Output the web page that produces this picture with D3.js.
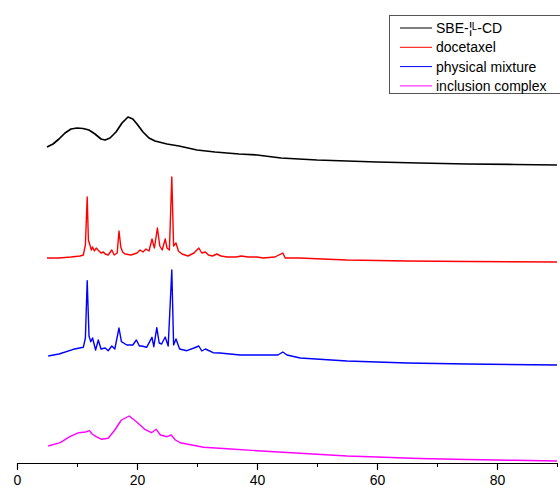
<!DOCTYPE html>
<html>
<head>
<meta charset="utf-8">
<script src="https://cdn.jsdelivr.net/npm/d3@7"></script>
<style>
  body { margin: 0; background: #fff; }
  svg { display: block; font-family: "Liberation Sans", Arial, sans-serif; }
</style>
</head>
<body>
<svg id="chart" width="560" height="488"></svg>
<script>
// series names and colours
const seriesNames = ["SBE-¦ᴸ-CD", "docetaxel", "physical mixture", "inclusion complex"];
const seriesColors = ["#000000", "#ff0000", "#0000ff", "#ff00ff"];

// 2-theta (deg) and intensity (a.u., stacked with offsets)
const sbeX = [5, 6, 7, 8, 9, 10, 11, 12, 13, 14, 14.7, 15.5, 16.5, 17.5, 18.5, 19.3, 20, 21, 22, 23, 25, 27, 30, 33, 37, 40, 44, 50, 55, 60, 67, 75, 83, 90];
const sbeY = [3230, 3260, 3310, 3370, 3410, 3420, 3415, 3400, 3360, 3310, 3300, 3320, 3380, 3470, 3530, 3510, 3460, 3380, 3320, 3290, 3260, 3240, 3200, 3180, 3160, 3150, 3120, 3100, 3090, 3080, 3070, 3060, 3055, 3050];

const docX = [5, 7, 9, 10.5, 11.05, 11.4, 11.7, 11.9, 12.2, 12.4, 12.6, 12.9, 13.2, 13.5, 14.0, 14.4, 14.7, 15.2, 15.8, 16.2, 16.7, 17.0, 17.3, 17.6, 18, 19, 20, 20.5, 21, 21.5, 22, 22.5, 22.9, 23.4, 23.8, 24.2, 24.7, 25.0, 25.4, 25.8, 26.1, 26.5, 26.9, 27.5, 28.5, 29.5, 30.3, 30.8, 31.4, 31.9, 32.6, 33.3, 34, 35, 36.5, 37.4, 38.5, 40, 41, 43, 44.3, 44.7, 47, 55, 65, 75, 90];
const docY = [2120, 2120, 2130, 2140, 2150, 2250, 2730, 2300, 2240, 2200, 2230, 2190, 2220, 2200, 2170, 2180, 2160, 2150, 2200, 2150, 2170, 2390, 2230, 2180, 2160, 2150, 2170, 2200, 2180, 2210, 2190, 2310, 2220, 2420, 2240, 2200, 2310, 2220, 2200, 2930, 2240, 2270, 2190, 2160, 2140, 2170, 2220, 2170, 2180, 2150, 2140, 2160, 2140, 2130, 2130, 2140, 2130, 2130, 2120, 2130, 2170, 2120, 2120, 2100, 2090, 2085, 2080];

const pmX = [5.2, 7, 9.4, 11.05, 11.4, 11.7, 12.0, 12.3, 12.6, 13.1, 13.55, 14.0, 14.7, 15.2, 15.8, 16.3, 17.0, 17.4, 18.3, 19.3, 19.9, 20.4, 20.8, 21.6, 22.5, 22.8, 23.3, 23.7, 24.1, 24.7, 25.2, 25.8, 26.1, 26.5, 27.1, 28.3, 29.5, 30.3, 30.8, 31.4, 32.7, 33.8, 37.2, 40, 43.5, 44.3, 45, 47.2, 55, 65, 75, 90];
const pmY = [1140, 1160, 1207, 1227, 1320, 1893, 1340, 1283, 1320, 1200, 1300, 1210, 1220, 1193, 1240, 1210, 1420, 1283, 1250, 1250, 1300, 1240, 1240, 1227, 1327, 1233, 1423, 1270, 1260, 1330, 1240, 2000, 1250, 1310, 1210, 1193, 1220, 1240, 1190, 1210, 1173, 1170, 1150, 1150, 1150, 1180, 1150, 1120, 1090, 1070, 1060, 1050];

const icX = [5.2, 7.2, 8.8, 10.3, 11.4, 12.1, 12.5, 13.2, 14.1, 15.2, 16.3, 17.4, 18.7, 19.9, 21.3, 22.4, 23.2, 23.9, 25, 25.7, 26.4, 27.2, 30, 31.1, 35, 40, 47.2, 55, 60, 67, 75, 83, 90];
const icY = [240, 273, 333, 373, 380, 393, 360, 333, 307, 317, 400, 500, 540, 483, 407, 373, 407, 350, 333, 350, 300, 273, 240, 227, 213, 193, 167, 140, 130, 115, 105, 97, 90];

// x axis ticks
const majorTicks = [0, 20, 40, 60, 80];
const minorTicks = [10, 30, 50, 70, 90];

const svg = d3.select("#chart");

const x = d3.scaleLinear().domain([0, 90]).range([17, 557]);
const y = d3.scaleLinear().domain([0, 4700]).range([470, 0]);

const series = [
    { xs: sbeX, ys: sbeY },
    { xs: docX, ys: docY },
    { xs: pmX, ys: pmY },
    { xs: icX, ys: icY }
];

const line = d3.line()
    .x(d => x(d[0]))
    .y(d => y(d[1]));

series.forEach((s, i) => {
    const pts = s.xs.map((v, j) => [v, s.ys[j]]);
    svg.append("path")
        .datum(pts)
        .attr("fill", "none")
        .attr("stroke", seriesColors[i])
        .attr("stroke-width", i === 0 ? 1.7 : 1.4)
        .attr("stroke-linejoin", "round")
        .attr("d", line);
});

// x axis
const axisY = 463;
svg.append("g")
    .attr("transform", `translate(0,${axisY})`)
    .call(d3.axisBottom(x).tickValues(minorTicks).tickSize(4).tickSizeOuter(0).tickFormat(""))
    .call(g => g.select(".domain").remove());

const xAxis = svg.append("g")
    .attr("transform", `translate(0,${axisY})`)
    .call(d3.axisBottom(x).tickValues(majorTicks).tickSize(7).tickSizeOuter(0).tickPadding(5));
xAxis.selectAll("text")
    .attr("font-size", 14)
    .attr("font-family", "Liberation Sans, Arial, sans-serif")
    .attr("fill", "#000");
xAxis.selectAll("line, path").attr("stroke", "#000").attr("stroke-width", 1.2);

// legend
const legend = svg.append("g");
legend.append("rect")
    .attr("x", 389.5).attr("y", 15.5)
    .attr("width", 175).attr("height", 78)
    .attr("fill", "#fff")
    .attr("stroke", "#555");

seriesNames.forEach((name, i) => {
    const ly = 28 + i * 19.3;
    legend.append("line")
        .attr("x1", 400).attr("x2", 432)
        .attr("y1", ly).attr("y2", ly)
        .attr("stroke", seriesColors[i])
        .attr("stroke-width", 1);
    legend.append("text")
        .attr("x", 436).attr("y", ly)
        .attr("dy", "0.35em")
        .attr("font-size", 14)
        .attr("fill", "#000")
        .text(name);
});
</script>
</body>
</html>
